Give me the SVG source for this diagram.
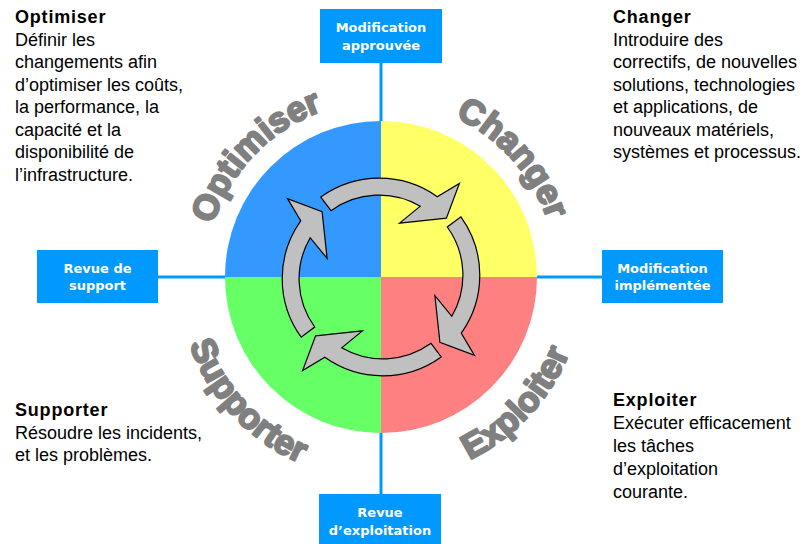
<svg xmlns="http://www.w3.org/2000/svg" width="806" height="544" viewBox="0 0 806 544">
<style>
.box{fill:#0099FF}
.bt{font-family:"DejaVu Sans",Verdana,sans-serif;font-weight:bold;font-size:13px;fill:#FFFFFF;text-anchor:middle}
.ct{font-family:"Liberation Sans",Arial,sans-serif;font-size:18px;fill:#000000}
.ch{font-weight:bold;letter-spacing:0.8px}
.arc{font-family:"Liberation Sans",Arial,sans-serif;font-weight:bold;font-size:35px;fill:#808080;stroke:#808080;stroke-width:2.2px;stroke-linejoin:round}
.arrow{fill:#C0C0C0;stroke:#000000;stroke-width:1.2px;stroke-linejoin:miter}
.conn{stroke:#0099FF;stroke-width:3px;fill:none}
</style>
<defs>
<path id="pOpt" d="M 211.8,325.5 A 176 176 0 0 1 423.6,106.2"/>
<path id="pChg" d="M 344.4,104.8 A 176 176 0 0 1 548.4,331.4"/>
<path id="pSup" d="M 186.9,217.6 A 203 203 0 0 0 426.7,474.8"/>
<path id="pExp" d="M 335.3,474.8 A 203 203 0 0 0 575.1,217.6"/>
<path id="arr" class="arrow" d="M -60.2,-79.9 A 100 100 0 0 1 56.2,-80.3 L 78.4,-93.5 L 65.4,-58.9 L 18.6,-53.9 L 39.3,-70.8 A 82 82 0 0 0 -50,-66.3 Z"/>
</defs>
<rect width="806" height="544" fill="#FFFFFF"/>
<g id="connectors">
<line class="conn" x1="381" y1="63" x2="381" y2="494"/>
<line class="conn" x1="158" y1="277" x2="602" y2="277"/>
</g>
<g id="cycle">
<path d="M381,277 L225,277 A156,156 0 0 1 381,121 Z" fill="#3399FF"/>
<path d="M381,277 L381,121 A156,156 0 0 1 537,277 Z" fill="#FFFF66"/>
<path d="M381,277 L537,277 A156,156 0 0 1 381,433 Z" fill="#FF8080"/>
<path d="M381,277 L381,433 A156,156 0 0 1 225,277 Z" fill="#66FF66"/>
<g transform="translate(381,277)">
<use href="#arr"/>
<use href="#arr" transform="rotate(90)"/>
<use href="#arr" transform="rotate(180)"/>
<use href="#arr" transform="rotate(270)"/>
</g>
</g>
<g id="ring-labels">
<text class="arc"><textPath href="#pOpt" startOffset="50%" text-anchor="middle">Optimiser</textPath></text>
<text class="arc"><textPath href="#pChg" startOffset="50%" text-anchor="middle">Changer</textPath></text>
<text class="arc"><textPath href="#pSup" startOffset="50%" text-anchor="middle">Supporter</textPath></text>
<text class="arc"><textPath href="#pExp" startOffset="50%" text-anchor="middle">Exploiter</textPath></text>
</g>
<g id="box-top">
<rect class="box" x="320" y="9" width="122" height="54"/>
<text class="bt" x="381" y="32">Modification</text>
<text class="bt" x="381" y="50">approuvée</text>
</g>
<g id="box-left">
<rect class="box" x="37" y="250" width="121" height="53"/>
<text class="bt" x="97.5" y="273">Revue de</text>
<text class="bt" x="97.5" y="290">support</text>
</g>
<g id="box-right">
<rect class="box" x="602" y="250" width="121" height="53"/>
<text class="bt" x="662.5" y="273">Modification</text>
<text class="bt" x="662.5" y="290">implémentée</text>
</g>
<g id="box-bottom">
<rect class="box" x="319" y="494" width="122" height="52"/>
<text class="bt" x="380" y="517">Revue</text>
<text class="bt" x="380" y="535">d’exploitation</text>
</g>
<g id="text-optimiser">
<text class="ct ch" x="15" y="23">Optimiser</text>
<text class="ct" x="15" y="45.5">Définir les</text>
<text class="ct" x="15" y="68">changements afin</text>
<text class="ct" x="15" y="90.5">d’optimiser les coûts,</text>
<text class="ct" x="15" y="113">la performance, la</text>
<text class="ct" x="15" y="135.5">capacité et la</text>
<text class="ct" x="15" y="158">disponibilité de</text>
<text class="ct" x="15" y="180.5">l’infrastructure.</text>
</g>
<g id="text-changer">
<text class="ct ch" x="613" y="23">Changer</text>
<text class="ct" x="613" y="45.5">Introduire des</text>
<text class="ct" x="613" y="68">correctifs, de nouvelles</text>
<text class="ct" x="613" y="90.5">solutions, technologies</text>
<text class="ct" x="613" y="113">et applications, de</text>
<text class="ct" x="613" y="135.5">nouveaux matériels,</text>
<text class="ct" x="613" y="158">systèmes et processus.</text>
</g>
<g id="text-supporter">
<text class="ct ch" x="15" y="416">Supporter</text>
<text class="ct" x="15" y="438.5">Résoudre les incidents,</text>
<text class="ct" x="15" y="461">et les problèmes.</text>
</g>
<g id="text-exploiter">
<text class="ct ch" x="613" y="406">Exploiter</text>
<text class="ct" x="613" y="429">Exécuter efficacement</text>
<text class="ct" x="613" y="452">les tâches</text>
<text class="ct" x="613" y="475">d’exploitation</text>
<text class="ct" x="613" y="498">courante.</text>
</g>
</svg>
